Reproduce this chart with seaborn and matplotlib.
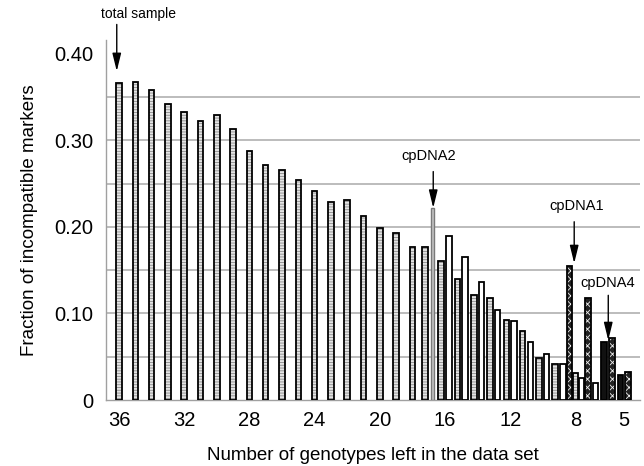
import numpy as np
import pandas as pd
import matplotlib
matplotlib.use("Agg")
import matplotlib.pyplot as plt
import seaborn as sns

# ---------------- data ----------------
genotypes = [36, 35, 34, 33, 32, 31, 30, 29, 28, 27, 26, 25, 24, 23, 22, 21, 20, 19, 18,
             17, 17, 16, 16, 15, 15, 14, 14, 13, 13, 12, 12, 11, 11, 10, 10, 9, 9,
             8, 8, 8, 7, 7, 6, 6, 5, 5]
fractions = [0.366, 0.367, 0.358, 0.342, 0.333, 0.323, 0.329, 0.313, 0.288, 0.272,
             0.266, 0.254, 0.241, 0.229, 0.231, 0.213, 0.199, 0.193, 0.177,
             0.177, 0.222, 0.161, 0.189, 0.140, 0.165, 0.121, 0.136, 0.118, 0.104,
             0.093, 0.091, 0.080, 0.067, 0.048, 0.053, 0.042, 0.042,
             0.155, 0.031, 0.026, 0.118, 0.020, 0.067, 0.072, 0.029, 0.032]
bar_styles = ["S"] * 19 + ["S", "G"] + ["S", "W"] * 8 + ["C", "S", "W", "C", "W", "B", "C", "B", "C"]

x_tick_values = [36, 32, 28, 24, 20, 16, 12, 8, 5]
y_tick_values = [0, 0.05, 0.10, 0.15, 0.20, 0.25, 0.30, 0.35, 0.40]
y_tick_labels = ["0", "", "0.10", "", "0.20", "", "0.30", "", "0.40"]

ann_labels = ["total sample", "cpDNA2", "cpDNA1", "cpDNA4"]
ann_arrow_x = [36.14, 16.72, 8.07, 5.98]
ann_tip_y = [0.380, 0.222, 0.158, 0.069]
ann_tail_y = [0.434, 0.264, 0.206, 0.121]
ann_text_x = [34.83, 16.98, 7.92, 6.0]
ann_text_y = [0.446, 0.282, 0.224, 0.135]

# ---------------- layout of grouped bars (dodge within a genotype count) ----------------
pair_spacing = 0.47
triple_spacing = 0.37
bar_w = 0.34

df = pd.DataFrame({"g": genotypes, "frac": fractions, "style": bar_styles})
df["slot"] = df.groupby("g").cumcount()
df["n"] = df.groupby("g")["g"].transform("size")
spacing = np.where(df["n"] >= 3, triple_spacing, pair_spacing)
df["pos"] = df["g"] - (df["slot"] - (df["n"] - 1) / 2) * spacing


def rel_width(frame):
    gap = np.min(np.diff(np.unique(frame["pos"].values)))
    return bar_w / gap


sns.set_theme(style="white")
plt.rcParams["font.family"] = ["Liberation Sans", "DejaVu Sans"]
plt.rcParams["hatch.linewidth"] = 0.6
plt.rcParams["text.color"] = "black"
plt.rcParams["axes.labelcolor"] = "black"
plt.rcParams["xtick.labelcolor"] = "black"
plt.rcParams["ytick.labelcolor"] = "black"

fig = plt.figure(figsize=(6.44, 4.66), dpi=100)
ax = fig.add_axes([0.1646, 0.1416, 0.829, 0.7725])

style_order = ["S", "W", "G", "C", "B"]
face = {"S": "#e4e4e4", "W": "#ffffff", "G": "#c4c4c4", "C": "#222222", "B": "#111111"}
hatch = {"S": "------", "W": None, "G": None, "C": "xxxx", "B": None}
hatch_col = {"S": "#8a8a8a", "W": "#000000", "G": "#7a7a7a", "C": "#f0f0f0", "B": "#000000"}

sns.barplot(data=df, x="pos", y="frac", hue="style", hue_order=style_order,
            palette=face, native_scale=True, dodge=False, width=rel_width(df),
            errorbar=None, legend=False, ax=ax, zorder=3)
for lvl, cont in zip(style_order, ax.containers):
    for p in cont.patches:
        p.set_edgecolor(hatch_col[lvl])
        p.set_hatch(hatch[lvl])
        p.set_linewidth(1.0 if lvl == "G" else 0)
        if lvl == "G":
            w = p.get_width()
            p.set_width(w * 0.55)
            p.set_x(p.get_x() + w * 0.22)

# black outlines on top
outline = df[df["style"] != "G"]
sns.barplot(data=outline, x="pos", y="frac", native_scale=True, width=rel_width(outline),
            fill=False, color="black", linewidth=1.3, errorbar=None, ax=ax, zorder=4)

# axes
ax.set_xlim(36.8, 4.04)
ax.set_ylim(0, 0.416)
ax.set_yticks(y_tick_values)
ax.set_yticklabels(y_tick_labels)
ax.set_xticks(x_tick_values)
ax.set_xticklabels([str(v) for v in x_tick_values])
ax.set_xticks([g + 0.5 for g in range(4, 37)], minor=True)
ax.set_xlabel("")
ax.set_ylabel("")

ax.yaxis.grid(True, color="#a9a9a9", linewidth=1.1, zorder=0)
ax.set_axisbelow(True)
ax.yaxis.get_gridlines()[-1].set_visible(False)
ax.yaxis.get_gridlines()[0].set_visible(False)

for s in ["top", "right"]:
    ax.spines[s].set_visible(False)
for s in ["left", "bottom"]:
    ax.spines[s].set_color("#a0a0a0")
    ax.spines[s].set_linewidth(1.0)

ax.tick_params(axis="both", which="both", direction="out", color="#909090", labelsize=14.5,
               labelcolor="black")
ax.tick_params(axis="y", length=7, pad=2)
ax.tick_params(axis="x", which="major", length=7, pad=1)
ax.tick_params(axis="x", which="minor", length=4)

ax.set_xlabel("Number of genotypes left in the data set", fontsize=13.5, labelpad=12, color="black")
ax.set_ylabel("Fraction of incompatible markers", fontsize=13.5, labelpad=12, color="black")

for lab, ax_x, ty, tl, tx, tyy in zip(ann_labels, ann_arrow_x, ann_tip_y, ann_tail_y,
                                      ann_text_x, ann_text_y):
    ax.annotate("", xy=(ax_x, ty), xytext=(ax_x, tl),
                arrowprops=dict(arrowstyle="-|>,head_length=0.9,head_width=0.22",
                                color="black", lw=1.0, shrinkA=0, shrinkB=0),
                annotation_clip=False, zorder=6)
    ax.text(tx, tyy, lab, ha="center", va="center", color="black",
            fontsize=10.5 if lab != "total sample" else 10,
            clip_on=False, zorder=6)

fig.savefig("out.png", dpi=100)
